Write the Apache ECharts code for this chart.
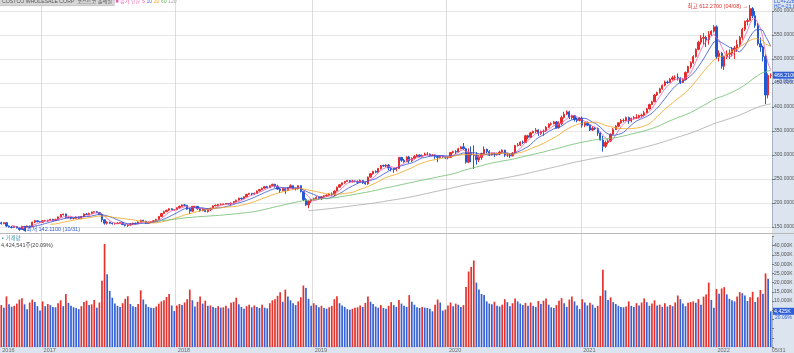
<!DOCTYPE html>
<html><head><meta charset="utf-8">
<script src="https://cdn.jsdelivr.net/npm/echarts@6/dist/echarts.min.js"></script>
<style>
html,body{margin:0;padding:0;background:#fff;}
#wrap{position:relative;width:794px;height:353px;overflow:hidden;background:#fff;}
#rp{position:absolute;left:772px;top:0;width:22px;height:353px;background:#dbe4ef;}
#bs{position:absolute;left:0;top:346px;width:794px;height:7px;background:#dbe4ef;}
#c{position:absolute;left:0;top:0;width:794px;height:353px;}
</style>
</head><body><div id="wrap"><div id="rp"></div><div id="bs"></div><div id="c"></div></div>
<script>
// weekly candles [open, close, low, high], first week 2016-09-12
const weeklyOHLC = [
// 2016
[159,157,155,161],[157,159,156,160],[159,152,150,160],[152,150,149,153],[150,149,147,152],[149,151,148,152],[151,148,147,152],[148,145,142.11,149],[145,151,144,153],[151,150,148,152],[150,152,149,153],[152,150,148,153],[150,160,150,161],[160,163,158,165],[163,161,160,164],[161,160,159,162],
// 2017
[160,163,159,164],[163,163,161,165],[163,164,161,165],[164,166,163,167],[166,164,162,167],
[164,166,163,167],[166,171,165,172],[171,176,170,177],[176,177,174,178],
[177,170,168,178],[170,170,168,172],[170,168,166,171],[168,168,166,169],
[168,171,167,172],[171,168,167,172],[168,172,167,173],[172,177,171,178],
[177,176,175,179],[176,178,175,180],[178,181,177,182],[181,182,180,183],[182,180,179,183],
[180,176,175,181],[176,165,160,178],[165,158,155,166],[158,160,155,162],
[160,158,156,161],[158,157,155,160],[157,157,155,159],[157,158,156,160],[158,159,156,160],
[159,155,154,160],[155,153,151,156],[153,154,150,156],[154,156,153,158],
[156,158,154,159],[158,157,155,159],[157,160,156,162],[160,164,160,165],
[164,162,160,165],[162,158,156,163],[158,160,157,161],[160,161,159,162],[161,163,160,164],
[163,166,162,167],[166,172,165,173],[172,178,171,179],[178,182,177,184],
[182,185,181,186],[185,188,183,189],[188,186,185,189],[186,186,184,187],
// 2018
[186,190,185,191],[190,193,189,195],[193,196,192,197],[196,195,193,198],[195,187,186,196],
[187,183,177,190],[183,193,182,194],[193,193,190,194],[193,188,186,194],
[188,184,182,190],[184,187,183,189],[187,182,181,188],[182,188,180,189],
[188,189,183,190],[189,194,188,195],[194,195,193,197],[195,197,193,198],[197,197,195,199],
[197,198,196,199],[198,199,197,200],[199,198,197,200],[198,200,195,201],
[200,203,199,204],[203,206,202,207],[206,210,205,211],[210,209,206,211],
[209,213,208,214],[213,218,212,219],[218,220,217,221],[220,219,216,221],[219,220,217,222],
[220,225,219,226],[225,228,224,229],[228,231,227,232],[231,234,230,235],
[234,232,231,236],[232,236,231,237],[236,239,235,240],[239,235,232,240],
[235,229,227,238],[229,226,221,231],[226,230,224,231],[230,226,219,232],[226,232,225,233],
[232,236,231,239],[236,230,228,237],[230,230,226,232],[230,236,228,237],
[236,224,222,237],[224,207,204,225],[207,196,194,210],[196,204,189,205],[204,207,200,208],
// 2019
[207,209,205,211],[209,212,207,214],[212,209,207,213],[209,213,206,214],
[213,215,212,216],[215,216,213,218],[216,219,215,220],[219,217,214,222],
[217,225,215,226],[225,233,224,234],[233,238,232,239],[238,242,236,243],
[242,245,240,246],[245,247,244,248],[247,244,242,248],[244,246,243,248],[246,245,243,247],
[245,243,240,247],[243,247,242,249],[247,242,240,248],[242,240,238,245],
[240,254,238,255],[254,261,253,262],[261,266,259,267],[266,264,262,268],
[264,272,263,273],[272,278,270,279],[278,277,275,280],[277,279,275,281],[279,273,268,281],
[273,272,266,274],[272,270,263,273],[270,272,266,275],[272,295,271,296],
[295,289,286,296],[289,286,284,292],[286,296,285,297],[296,288,283,298],[288,293,285,295],
[293,297,291,300],[297,300,296,302],[300,297,296,301],[297,299,295,301],
[299,302,298,305],[302,302,299,306],[302,299,297,303],[299,300,298,302],
[300,297,292,301],[297,295,285,298],[295,298,293,299],[298,296,294,299],[296,294,292,297],
// 2020
[294,295,291,297],[295,305,294,306],[305,307,303,309],[307,306,302,310],
[306,313,305,315],[313,317,312,318],[317,313,310,325],[313,285,282,315],
[285,305,283,314],[305,300,285,318],[300,299,271,320],[299,290,280,306],[290,295,285,300],
[295,303,290,305],[303,312,300,318],[312,307,303,313],[307,300,298,310],
[300,303,299,305],[303,302,296,305],[302,302,299,305],[302,306,300,309],
[306,310,304,312],[310,300,296,311],[300,300,296,304],[300,298,294,302],[298,304,298,306],
[304,320,303,321],[320,321,318,325],[321,327,319,328],[327,326,323,330],
[326,340,325,342],[340,337,333,342],[337,346,336,348],[346,349,345,351],[349,352,346,356],
[352,345,340,353],[345,349,342,351],[349,350,340,353],[350,358,348,360],
[358,364,356,366],[364,365,361,368],[365,369,364,371],[369,357,355,371],
[357,365,355,370],[365,378,362,382],[378,385,376,390],[385,390,383,393],[390,378,375,392],
[378,382,374,384],[382,374,370,383],[374,372,368,378],[372,377,370,379],
// 2021
[377,362,357,380],[362,367,358,369],[367,362,360,370],[362,352,350,364],
[352,356,350,360],[356,355,352,358],[355,346,340,357],[346,331,330,348],
[331,318,307,340],[318,326,315,330],[326,329,322,333],[329,343,327,345],[343,353,342,356],
[353,360,352,362],[360,367,358,368],[367,372,365,375],[372,372,368,376],
[372,378,370,380],[378,371,365,380],[371,376,368,378],[376,378,374,381],[378,378,375,385],
[378,382,376,384],[382,383,378,386],[383,388,380,392],[388,396,387,398],
[396,405,395,407],[405,411,404,413],[411,425,410,427],[425,430,423,432],
[430,438,428,440],[438,445,436,447],[445,452,443,455],[452,451,448,455],[451,458,450,460],
[458,461,455,465],[461,462,456,466],[462,460,455,470],[460,451,448,462],
[451,457,450,460],[457,472,455,474],[472,484,470,486],[484,492,480,495],
[492,505,490,508],[505,520,503,522],[520,535,518,538],[535,543,530,550],[543,545,530,554],
[545,540,525,548],[540,551,530,558],[551,558,548,560],[558,567,555,571],
// 2022
[567,505,500,570],[505,512,495,518],[512,485,480,515],[485,505,477,506],[505,510,500,518],
[510,512,500,520],[512,520,505,525],[520,523,500,527],[523,530,515,540],
[530,545,525,548],[545,562,540,565],[562,578,558,580],[578,580,570,585],
[580,605,578,612.27],[605,590,585,608],[590,570,565,600],[570,532,528,575],[532,525,515,545],
[525,505,495,528],[505,425,406,510],[425,466,418,470],[466,466.21,460,470]
];
// weekly volume, thousand shares
const weeklyVolumeK = [
// 2016
7800,6400,12500,8200,6900,7400,8600,10800,11500,8200,5600,9200,10800,9400,7200,4800,
// 2017
9800,7200,8400,7800,6800, 6600,8800,10400,7200, 13800,9000,7400,6600, 6200,5600,7200,9400,
10200,7800,8200,10600,6400, 9200,21000,41000,24500, 15500,11800,8600,7400,6800,
8800,11200,12600,8400, 7200,6800,8400,15800, 10800,8200,6800,6400,6200,
7000,8600,9800,10400, 12200,13800,7600,4600,
// 2018
7600,8400,7800,9200,11000, 16200,10400,7000,9600, 12400,8600,10200,7400,
7600,6800,6200,7200,6400, 6600,7400,6000,9000, 9600,11800,8200,6800,
5800,7200,8000,6600,7600, 6800,6200,8000,6400, 6000,8800,10400,11000,
12800,14800,9600,16200,12400, 10400,8800,7800,9800, 12000,18400,17000,11200,7400,
// 2019
8800,7800,6600,7400, 6200,5800,6600,7400, 11000,12600,8800,7600,
6800,5600,5200,5800,6400, 6600,7600,6800,9000, 12400,9600,8400,7000,
6400,7800,6200,5800,7400, 9400,7800,6800,10600, 8600,7400,6800,13200,9600,
8000,6600,6200,6800, 6400,6200,5800,4400, 8000,10800,9200,4800,5400,
// 2020
7600,9200,7200,8600, 8000,6800,7800,17600, 26000,28500,32000,20000,16200,
13800,13200,9800,8600, 8200,9600,7400,7000, 8000,11000,9400,7200,8800,
11400,9800,8600,7800, 9000,7400,9200,7400,6800, 10000,8400,10200,11400,
8000,6600,6200,7800, 10200,11600,8800,6800,10800, 12400,9800,7600,5600,
// 2021
11000,9200,7600,9000, 8000,6400,7400,12800, 27000,15800,10600,12000,9400,
8400,7400,6800,6600, 7000,9800,7400,6800,8800, 7600,9200,11400,9400,
7400,8600,10400,7600, 8000,6800,8800,7000,7800, 7200,9200,13000,11000,
8600,7200,9000,9400, 9800,9000,11000,8000,12400, 13600,20000,10600,6400,
// 2022
16500,14000,16800,17500,13600, 11200,10400,9800,12400, 14800,14200,13000,10000,
12000,15000,9500,12000,16000, 14000,25000,22024,4425
];
const maPeriods = [5, 10, 20, 60, 120];
const maColors = ['#ee5fae', '#3350d0', '#f0a51c', '#6cbd6c', '#a8a8a8'];
const legendColors = ['#e860b0', '#5a6fd8', '#f0a51c', '#6cbd6c', '#a8a8a8'];
const priceTickMin = 150, priceTickMax = 600, priceTickStep = 50;
const volTickMin = -15000, volTickMax = 45000, volTickStep = 5000;
const highInfo = {idx: 290, value: 612.27, text: '최고 612.2700 (04/08) →'};
const lowInfo = {idx: 7, value: 142.11, text: '◀최저 142.1100 (10/31)'};
const titleText = 'COSTCO WHOLESALE CORP  코스트코 홀세일';
const legendLead = '■ 종가 단순 ';
const lastWeekLabel = '05/31';
const lastVolumeShares = '4,424,541주(20.09%)';
const lastVolumeRatio = '20.09%';

// weekly dates
const dates = [];
(function(){ const d0 = Date.UTC(2016, 8, 12); for (let i = 0; i < weeklyOHLC.length; i++) { dates.push(new Date(d0 + i * 7 * 864e5).toISOString().slice(0, 10)); } })();
const labelText = {};
labelText[0] = dates[0].slice(0, 4);
const yearIdx = new Set();
for (let i = 1; i < dates.length; i++) { if (dates[i].slice(0, 4) !== dates[i - 1].slice(0, 4)) { yearIdx.add(i); labelText[i] = dates[i].slice(0, 4); } }
labelText[dates.length - 1] = lastWeekLabel;

const closes = weeklyOHLC.map(d => d[1]);
function sma(n) { const out = []; let s = 0; for (let i = 0; i < closes.length; i++) { s += closes[i]; if (i >= n) s -= closes[i - n]; out.push(i >= n - 1 ? +(s / n).toFixed(3) : '-'); } return out; }
const volData = weeklyVolumeK.map((v, i) => ({ value: v, itemStyle: { color: (i === 0 || v >= weeklyVolumeK[i - 1]) ? '#e5322d' : '#3561d4' } }));
const lastClose = closes[closes.length - 1];
const prevClose = closes[closes.length - 2];
const chg = ((lastClose - prevClose) / prevClose * 100);
const lastVol = weeklyVolumeK[weeklyVolumeK.length - 1];
const fmtK = v => Math.round(v).toLocaleString('en-US') + 'K';

const chart = echarts.init(document.getElementById('c'), null, { renderer: 'canvas' });
const gridBase = { left: 0, right: 22, outerBoundsMode: 'none', containLabel: false };
const series = [{
  type: 'candlestick', xAxisIndex: 1, yAxisIndex: 1, data: weeklyOHLC, barWidth: 1.8, clip: false,
  itemStyle: { color: '#e62b2b', color0: '#2258d4', borderColor: '#e62b2b', borderColor0: '#2258d4', borderWidth: 1 }
}];
maPeriods.forEach((n, k) => series.push({ type: 'line', xAxisIndex: 1, yAxisIndex: 1, data: sma(n), symbol: 'none', smooth: false, lineStyle: { width: 0.8, color: maColors[k] }, z: 3, silent: true }));
series.push({ type: 'bar', xAxisIndex: 2, yAxisIndex: 2, data: volData, barWidth: 1.7 });

const hidden = { show: false };
chart.setOption({
  animation: false,
  grid: [
    Object.assign({ top: 0, height: 345 }, gridBase),
    Object.assign({ top: 11, height: 216 }, gridBase),
    Object.assign({ top: 236.5, height: 110.6 }, gridBase)
  ],
  xAxis: [
    { gridIndex: 0, type: 'category', data: dates, boundaryGap: true, axisLine: hidden, axisTick: hidden,
      axisLabel: { interval: i => labelText[i] !== undefined, formatter: (v, i) => labelText[i], align: 'left', fontSize: 5.5, color: '#6a6a6a', margin: 2, padding: [0, 0, 0, 1] },
      splitLine: { show: true, interval: i => yearIdx.has(i), lineStyle: { color: '#dcdcdc', width: 1 } } },
    { gridIndex: 1, type: 'category', data: dates, boundaryGap: true, show: false },
    { gridIndex: 2, type: 'category', data: dates, boundaryGap: true, show: false }
  ],
  yAxis: [
    { gridIndex: 0, type: 'value', show: false, min: 0, max: 1 },
    { gridIndex: 1, type: 'value', position: 'right', min: priceTickMin, max: priceTickMax, interval: priceTickStep,
      axisLine: { show: true, lineStyle: { color: '#9aa8ba', type: 'dotted' } },
      axisTick: { show: true, length: 2, lineStyle: { color: '#777' } },
      axisLabel: { formatter: v => v.toFixed(4), fontSize: 5, color: '#555', margin: 2 },
      splitLine: { show: true, lineStyle: { color: '#e6e6e6', width: 1 } } },
    { gridIndex: 2, type: 'value', position: 'right', min: volTickMin, max: volTickMax, interval: volTickStep, startValue: volTickMin,
      axisLine: { show: true, lineStyle: { color: '#9aa8ba', type: 'dotted' } },
      axisTick: { show: true, length: 2, lineStyle: { color: '#777' } },
      axisLabel: { formatter: v => (v >= 5000 && v <= 40000) ? fmtK(v) : '', fontSize: 5, color: '#555', margin: 2 },
      splitLine: { show: false } }
  ],
  series: series
});

// overlay texts positioned through the chart's own scales
const pHigh = chart.convertToPixel({ gridIndex: 1 }, [highInfo.idx, highInfo.value]);
const pLow = chart.convertToPixel({ gridIndex: 1 }, [lowInfo.idx, lowInfo.value]);
const yLast = chart.convertToPixel({ yAxisIndex: 1 }, lastClose);
const yVol = chart.convertToPixel({ yAxisIndex: 2 }, lastVol);
const FF = 'Liberation Sans, Noto Sans CJK KR, sans-serif';
const T = (x, y, text, size, fill, extra) => Object.assign({ type: 'text', x: x, y: y, z: 60, style: Object.assign({ text: text, fontSize: size, fill: fill, verticalAlign: 'middle', fontFamily: FF }, extra || {}) });
const legendRich = '{t|' + titleText + '}{m0| ' + legendLead + maPeriods[0] + '} ' + maPeriods.slice(1).map((p, k) => '{m' + (k + 1) + '|' + p + '}').join(' ');
const rich = { t: { backgroundColor: '#d6d6d6', borderColor: '#b5b5b5', borderWidth: 0.5, padding: [1, 2, 1, 2], fill: '#555', fontSize: 5.2, fontFamily: FF } };
maPeriods.forEach((p, k) => { rich['m' + k] = { fill: legendColors[k], fontSize: 5.2, fontFamily: FF }; });
chart.setOption({ graphic: [
  { type: 'text', x: 0, y: 2, z: 60, style: { text: legendRich, rich: rich, verticalAlign: 'middle', fontSize: 5.2, fontFamily: FF, fill: '#555' } },
  { type: 'line', shape: { x1: 0, y1: 233.5, x2: 794, y2: 233.5 }, style: { stroke: '#b9b9b9', lineWidth: 1 }, z: 50 },
  T(2, 238, '▪ 거래량', 5.5, '#3b98b0'),
  T(1, 245.5, lastVolumeShares, 5.5, '#444'),
  T(774, 1.5, 'LC=+228.06%', 5, '#2f5fd6'),
  T(774, 6.5, 'HC=-23.86%', 5, '#2f5fd6'),
  T(pHigh[0] - 2, pHigh[1] + 1.5, highInfo.text, 5.5, '#e0302a', { align: 'right' }),
  T(pLow[0] + 2, pLow[1] - 1, lowInfo.text, 5.5, '#2b55c8'),
  { type: 'rect', z: 60, shape: { x: 773, y: yLast - 3.5, width: 21, height: 7 }, style: { fill: '#2f5fd6' } },
  T(774, yLast, lastClose.toFixed(4), 5.3, '#fff'),
  T(776, yLast + 6, (chg >= 0 ? '+' : '') + chg.toFixed(2) + '%', 5, '#2f5fd6'),
  { type: 'rect', z: 60, shape: { x: 773, y: yVol - 3.5, width: 21, height: 7 }, style: { fill: '#2f5fd6' } },
  T(774, yVol, fmtK(lastVol), 5.3, '#fff'),
  T(775, yVol + 6, lastVolumeRatio, 5, '#2f5fd6')
] });
</script>
</body></html>
